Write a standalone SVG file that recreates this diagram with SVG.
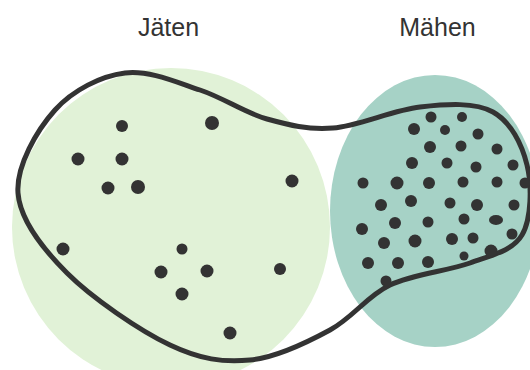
<svg xmlns="http://www.w3.org/2000/svg" width="530" height="370" viewBox="0 0 530 370">
<style>
.lbl{font-family:"Liberation Sans",Arial,sans-serif;font-size:25px;fill:#333;text-anchor:middle}
.dot{fill:#333}
.blob{fill:none;stroke:#333;stroke-width:5;stroke-linejoin:round}
</style>
<rect width="530" height="370" fill="#fff"/>
<g id="jaeten">
<circle cx="171" cy="227" r="159" fill="#e1f2d7"/>
<text class="lbl" x="168.5" y="36">Jäten</text>
</g>
<g id="maehen">
<ellipse cx="435" cy="211" rx="105" ry="136" fill="#a6d2c6"/>
<text class="lbl" x="437.5" y="36">Mähen</text>
</g>
<g id="selection">
<path class="blob" d="M125,73 C149,70 176,82 200,90 C224,98 245,113 267,119 C289,125 307.5,130 333,128 C358.5,126 393,110 420,107 C447,104 475,102 493,112 C511,122 522,144.5 527,165 C532,185.5 531.5,219 522,235 C512.5,251 492,255 470,263 C448,271 413,274 390,285 C367,296 353,317.5 330,330 C307,342.5 277,357.5 250,360 C223,362.5 200.5,359.5 170,345 C139.5,330.5 92,298 67,273 C42,248 20,220 18,193 C16,166 37,130 55,110 C73,90 101,76 125,73 Z"/>
</g>
<g id="dots-left" class="dot">
<circle cx="122" cy="126" r="6"/>
<circle cx="212" cy="123" r="7"/>
<circle cx="78" cy="159" r="6.5"/>
<circle cx="122" cy="159" r="6.5"/>
<circle cx="108" cy="188" r="6.5"/>
<circle cx="138" cy="187" r="7"/>
<circle cx="292" cy="181" r="6.5"/>
<circle cx="63" cy="249" r="6.5"/>
<circle cx="182" cy="249" r="5.5"/>
<circle cx="161" cy="272" r="6.5"/>
<circle cx="207" cy="271" r="6.5"/>
<circle cx="280" cy="269" r="6"/>
<circle cx="182" cy="294" r="6.5"/>
<circle cx="230" cy="333" r="6.5"/>
</g>
<g id="dots-right" class="dot">
<circle cx="431" cy="117" r="5.5"/>
<circle cx="462" cy="117" r="5"/>
<circle cx="414" cy="129" r="6"/>
<circle cx="445" cy="130" r="5"/>
<circle cx="478" cy="134" r="5.5"/>
<circle cx="430" cy="147" r="6"/>
<circle cx="461" cy="146" r="5.5"/>
<circle cx="497" cy="149" r="5.5"/>
<circle cx="412" cy="163" r="6"/>
<circle cx="447" cy="163" r="5.5"/>
<circle cx="476" cy="167" r="5.5"/>
<circle cx="513" cy="165" r="5.5"/>
<circle cx="363" cy="183" r="5.5"/>
<circle cx="397" cy="183" r="6.5"/>
<circle cx="429" cy="183" r="6"/>
<circle cx="463" cy="182" r="5.5"/>
<circle cx="497" cy="182" r="5.5"/>
<circle cx="525" cy="183" r="5.5"/>
<circle cx="381" cy="205" r="6"/>
<circle cx="411" cy="201" r="6"/>
<circle cx="450" cy="203" r="5.5"/>
<circle cx="477" cy="205" r="6"/>
<circle cx="514" cy="205" r="5.5"/>
<circle cx="362" cy="229" r="6"/>
<circle cx="395" cy="223" r="6"/>
<circle cx="428" cy="222" r="5.5"/>
<circle cx="464" cy="219" r="5.5"/>
<ellipse cx="496" cy="220" rx="7" ry="5"/>
<circle cx="384" cy="243" r="6"/>
<circle cx="415" cy="241" r="6.5"/>
<circle cx="452" cy="239" r="6"/>
<circle cx="473" cy="238" r="5.5"/>
<circle cx="512" cy="234" r="5.5"/>
<circle cx="368" cy="263" r="6"/>
<circle cx="398" cy="263" r="6"/>
<circle cx="428" cy="262" r="6"/>
<circle cx="464" cy="256" r="4.5"/>
<circle cx="491" cy="251" r="6.5"/>
<circle cx="386" cy="281" r="5.5"/>
</g>
</svg>
